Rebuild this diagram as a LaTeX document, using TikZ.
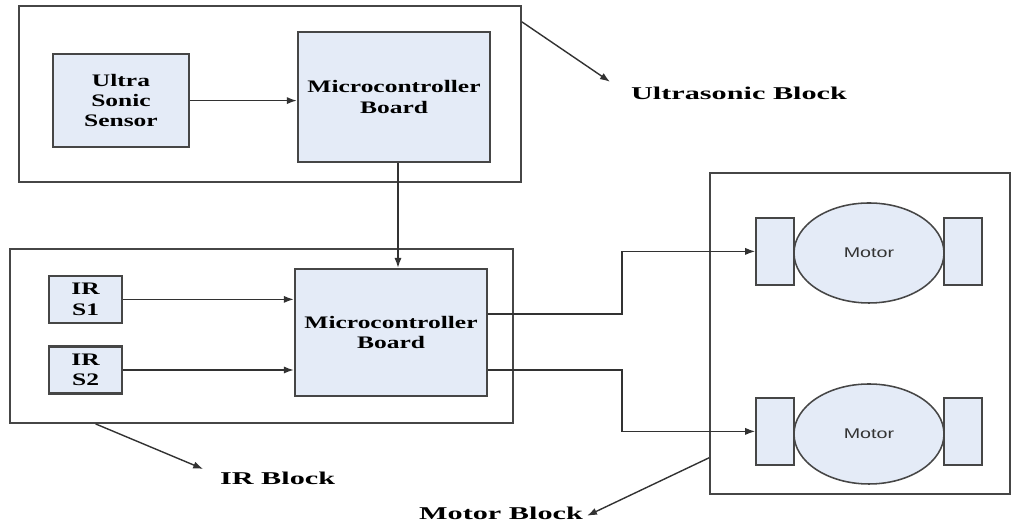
\documentclass[tikz,border=0pt]{standalone}
\usepackage{fontspec}
\setmainfont{Liberation Serif}[FakeStretch=1.45]
\newfontfamily\motorfont{Liberation Sans}[FakeStretch=1.4]
\newfontfamily\tagfont{Liberation Serif}[FakeStretch=1.68]
\usetikzlibrary{arrows.meta, shapes.geometric}
\definecolor{boxfill}{RGB}{228,235,247}
\definecolor{boxline}{RGB}{70,70,70}
\definecolor{wire}{RGB}{50,50,50}

\begin{document}
\begin{tikzpicture}

\tikzset{group/.style = {shape=rectangle,draw=boxline,line width=1.3pt}}
\tikzset{part/.style = {shape=rectangle,draw=boxline,fill=boxfill,line width=1.7pt,align=center,font=\fontsize{12.5}{14.5}\selectfont\bfseries}}
\tikzset{wheel/.style = {shape=rectangle,draw=boxline,fill=boxfill,line width=1.1pt,minimum width=0.95cm,minimum height=1.675cm}}
\tikzset{motor/.style = {shape=ellipse,draw=boxline,fill=boxfill,line width=1.1pt,minimum width=3.75cm,minimum height=2.5cm,text=black!80,font=\motorfont\fontsize{10}{12}\selectfont}}
\tikzset{tag/.style = {font=\tagfont\fontsize{12.8}{15}\selectfont\bfseries}}
\tikzset{edge/.style = {->,> = {Latex[length=2.5mm,width=1.8mm]},line width=1pt,draw=wire}}

\useasboundingbox (0,0) rectangle (25.425,13.175);

%blocks
\node[group, minimum width=12.55cm, minimum height=4.4cm] (usblock) at (6.75,10.825) {};
\node[group, minimum width=12.575cm, minimum height=4.35cm] (irblock) at (6.54,4.775) {};
\node[group, minimum width=7.5cm, minimum height=8.025cm] (mblock) at (21.5,4.84) {};

%parts
\node[part, minimum width=3.4cm, minimum height=2.325cm] (sensor) at (3.025,10.66) {Ultra\\Sonic\\Sensor};
\node[part, minimum width=4.8cm, minimum height=3.25cm] (mcu1) at (9.85,10.75) {Microcontroller\\Board};
\node[part, minimum width=1.83cm, minimum height=1.18cm] (irs1) at (2.14,5.69) {IR\\S1};
\node[part, minimum width=1.83cm, minimum height=1.18cm] (irs2) at (2.14,3.925) {IR\\S2};
\node[part, minimum width=4.8cm, minimum height=3.175cm] (mcu2) at (9.775,4.86) {Microcontroller\\Board};

%motors
\node[wheel] (m1l) at (19.375,6.89) {};
\node[wheel] (m1r) at (24.075,6.89) {};
\node[motor] (m1) at (21.725,6.85) {Motor};
\node[wheel] (m2l) at (19.375,2.39) {};
\node[wheel] (m2r) at (24.075,2.39) {};
\node[motor] (m2) at (21.725,2.325) {Motor};

%labels
\node[tag] (uslabel) at (18.475,10.85) {Ultrasonic Block};
\node[tag] (irlabel) at (6.94,1.225) {IR Block};
\node[tag] (mlabel) at (12.525,0.33) {Motor Block};
\coordinate (ustip) at (15.25,11.13);
\coordinate (irtip) at (5.08,1.45);
\coordinate (mtip) at (14.675,0.28);

%edges
\draw [edge] (sensor.east) -- (sensor.east -| mcu1.west);
\draw [edge] ([xshift=0.1cm]mcu1.south) -- ([xshift=0.1cm]mcu1.south |- mcu2.north);
\draw [edge] (irs1.east) -- (irs1.east -| mcu2.west);
\draw [edge] (irs2.east) -- (irs2.east -| mcu2.west);
\draw [edge] ([yshift=0.46cm]mcu2.east) -- ++(3.35,0) |- (m1l.west);
\draw [edge] ([yshift=-0.94cm]mcu2.east) -- ++(3.35,0) |- (m2l.west);
\draw [edge] ([yshift=-0.42cm]usblock.north east) -- (ustip);
\draw [edge] ([xshift=-4.15cm]irblock.south) -- (irtip);
\draw [edge] ([yshift=-3.11cm]mblock.west) -- (mtip);

\end{tikzpicture}
\end{document}
